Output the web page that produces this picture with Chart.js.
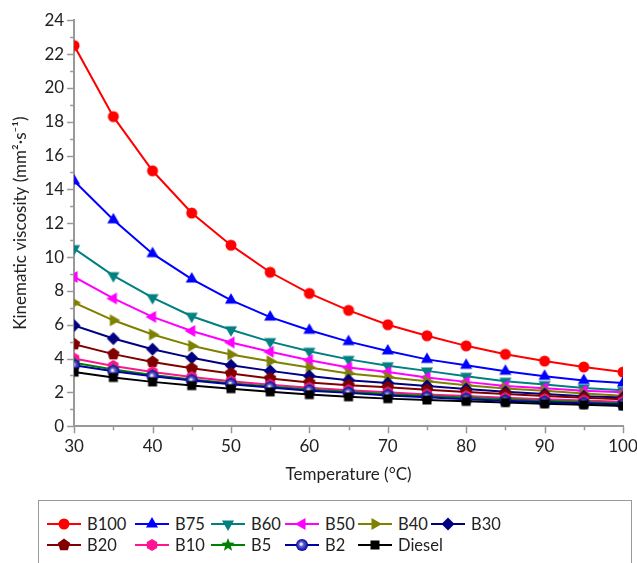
<!DOCTYPE html>
<html>
<head>
<meta charset="utf-8">
<script src="https://cdn.jsdelivr.net/npm/chart.js@4/dist/chart.umd.min.js"></script>
<style>
  body { margin: 0; background: #fff; font-family: Lato, sans-serif; }
  #wrap { position: relative; width: 637px; height: 563px; overflow: hidden; }
  #chart { position: absolute; left: 0; top: 0; }
  #legend {
    position: absolute; left: 38px; top: 500px; width: 594px; height: 80px;
    border: 1px solid #999; box-sizing: border-box;
    display: grid; grid-template-columns: 88px 76px 74px 73px 73px auto;
    grid-auto-rows: 21px; padding: 12px 0 0 8px; align-content: start;
  }
  .item { display: flex; align-items: center; font-size: 16.5px; color: #222; white-space: pre; }
  .item canvas { margin-right: 6px; }
</style>
</head>
<body>
<div id="wrap">
  <canvas id="chart" width="637" height="485"></canvas>
  <div id="legend"></div>
</div>
<script>
const temperatures = [30, 35, 40, 45, 50, 55, 60, 65, 70, 75, 80, 85, 90, 95, 100];
const seriesNames = ['B100', 'B75', 'B60', 'B50', 'B40', 'B30', 'B20', 'B10', 'B5', 'B2', 'Diesel'];

const b100 = [22.5, 18.3, 15.1, 12.6, 10.7, 9.1, 7.85, 6.85, 6.0, 5.35, 4.75, 4.25, 3.85, 3.5, 3.2];
const b75 = [14.5, 12.2, 10.2, 8.7, 7.45, 6.45, 5.67, 5.0, 4.45, 3.95, 3.6, 3.25, 2.95, 2.7, 2.55];
const b60 = [10.5, 8.9, 7.6, 6.5, 5.7, 5.0, 4.43, 3.95, 3.57, 3.27, 2.95, 2.66, 2.46, 2.26, 2.12];
const b50 = [8.82, 7.55, 6.46, 5.63, 4.95, 4.4, 3.9, 3.47, 3.2, 2.88, 2.62, 2.38, 2.25, 2.1, 2.0];
const b40 = [7.3, 6.26, 5.42, 4.75, 4.24, 3.84, 3.47, 3.12, 2.9, 2.66, 2.42, 2.23, 2.09, 1.93, 1.8];
const b30 = [5.95, 5.18, 4.55, 4.04, 3.6, 3.27, 2.97, 2.72, 2.55, 2.38, 2.2, 2.03, 1.9, 1.77, 1.7];
const b20 = [4.85, 4.26, 3.8, 3.42, 3.12, 2.82, 2.58, 2.42, 2.3, 2.15, 2.02, 1.9, 1.78, 1.68, 1.6];
const b10 = [4.0, 3.56, 3.2, 2.91, 2.66, 2.45, 2.28, 2.13, 2.0, 1.88, 1.78, 1.68, 1.6, 1.52, 1.45];
const b5 = [3.75, 3.35, 3.02, 2.76, 2.54, 2.34, 2.17, 2.03, 1.9, 1.79, 1.69, 1.6, 1.5, 1.43, 1.36];
const b2 = [3.6, 3.25, 2.95, 2.7, 2.48, 2.29, 2.1, 1.97, 1.82, 1.71, 1.6, 1.5, 1.42, 1.35, 1.28];
const diesel = [3.2, 2.88, 2.62, 2.4, 2.22, 2.03, 1.87, 1.74, 1.63, 1.55, 1.47, 1.4, 1.32, 1.27, 1.2];

const allValues = [b100, b75, b60, b50, b40, b30, b20, b10, b5, b2, diesel];
const colors = ['#ff0000', '#0000ff', '#008080', '#ff00ff', '#808000', '#000080',
                '#800000', '#ff1493', '#008000', '#0000a0', '#000000'];
const markers = ['circle', 'triUp', 'triDown', 'triLeft', 'triRight', 'diamond',
                 'pentagon', 'hexagon', 'star', 'sphere', 'square'];

// draws one marker shape centred at cx, cy
function drawMarker(ctx, type, color, cx, cy) {
  ctx.fillStyle = color;
  const poly = (n, r, start) => {
    ctx.beginPath();
    for (let i = 0; i < n; i++) {
      const a = start + i * 2 * Math.PI / n;
      const px = cx + r * Math.cos(a), py = cy + r * Math.sin(a);
      i ? ctx.lineTo(px, py) : ctx.moveTo(px, py);
    }
    ctx.closePath();
    ctx.fill();
  };
  const up = -Math.PI / 2;
  if (type === 'circle') { ctx.beginPath(); ctx.arc(cx, cy, 5.5, 0, 2 * Math.PI); ctx.fill(); }
  else if (type === 'triUp') poly(3, 7, up);
  else if (type === 'triDown') poly(3, 7, Math.PI / 2);
  else if (type === 'triLeft') poly(3, 7, Math.PI);
  else if (type === 'triRight') poly(3, 7, 0);
  else if (type === 'diamond') poly(4, 6.5, up);
  else if (type === 'pentagon') poly(5, 6.5, up);
  else if (type === 'hexagon') poly(6, 6, up);
  else if (type === 'square') ctx.fillRect(cx - 4.5, cy - 4.5, 9, 9);
  else if (type === 'star') {
    ctx.beginPath();
    for (let i = 0; i < 10; i++) {
      const r = i % 2 ? 3 : 7;
      const a = up + i * Math.PI / 5;
      const px = cx + r * Math.cos(a), py = cy + r * Math.sin(a);
      i ? ctx.lineTo(px, py) : ctx.moveTo(px, py);
    }
    ctx.closePath();
    ctx.fill();
  } else if (type === 'sphere') {
    const g = ctx.createRadialGradient(cx - 1, cy - 1, 0.5, cx, cy, 6);
    g.addColorStop(0, '#ffffff');
    g.addColorStop(0.35, '#6060d0');
    g.addColorStop(1, color);
    ctx.fillStyle = g;
    ctx.beginPath(); ctx.arc(cx, cy, 6, 0, 2 * Math.PI); ctx.fill();
  }
}

function markerCanvas(type, color) {
  const c = document.createElement('canvas');
  c.width = 16; c.height = 16;
  drawMarker(c.getContext('2d'), type, color, 8, 8);
  return c;
}

const datasets = seriesNames.map((name, i) => ({
  label: name,
  data: temperatures.map((t, j) => ({ x: t, y: allValues[i][j] })),
  borderColor: colors[i],
  backgroundColor: colors[i],
  borderWidth: 2,
  pointStyle: markerCanvas(markers[i], colors[i]),
  pointRadius: 6,
  tension: 0,
  order: seriesNames.length - i
}));

// axis ticks drawn by hand so minor ticks can be shorter
const tickMarks = {
  id: 'tickMarks',
  afterDraw(chart) {
    const ctx = chart.ctx;
    const xs = chart.scales.x, ys = chart.scales.y;
    ctx.save();
    ctx.strokeStyle = '#999';
    ctx.lineWidth = 1.5;
    ctx.beginPath();
    for (let v = 30; v <= 100; v += 5) {
      const px = Math.round(xs.getPixelForValue(v)) + 0.5;
      const len = v % 10 === 0 ? 7 : 4;
      ctx.moveTo(px, xs.top); ctx.lineTo(px, xs.top + len);
    }
    for (let v = 0; v <= 24; v += 1) {
      const py = Math.round(ys.getPixelForValue(v)) + 0.5;
      const len = v % 2 === 0 ? 7 : 4;
      ctx.moveTo(ys.right, py); ctx.lineTo(ys.right - len, py);
    }
    ctx.stroke();
    ctx.restore();
  }
};

const tickFont = { family: 'Lato, sans-serif', size: 17 };

new Chart(document.getElementById('chart'), {
  type: 'line',
  data: { datasets },
  plugins: [tickMarks],
  options: {
    responsive: false,
    animation: false,
    devicePixelRatio: 1,
    layout: { padding: { top: 10, right: 0, left: 6, bottom: 0 } },
    plugins: { legend: { display: false }, tooltip: { enabled: false } },
    scales: {
      x: {
        type: 'linear', min: 30, max: 100,
        afterFit(scale) { scale.paddingRight = 14; },
        ticks: { stepSize: 10, color: '#222', font: tickFont, padding: 10 },
        grid: { display: false, drawTicks: false },
        border: { color: '#999', width: 2 },
        title: { display: true, text: 'Temperature (°C)', color: '#222', font: tickFont, padding: { top: -2, bottom: 0 } }
      },
      y: {
        min: 0, max: 24,
        ticks: { stepSize: 2, color: '#222', font: tickFont, padding: 10 },
        grid: { display: false, drawTicks: false },
        border: { color: '#999', width: 2 },
        title: { display: true, text: 'Kinematic viscosity (mm²·s⁻¹)', color: '#222', font: tickFont, padding: { bottom: 4 } }
      }
    }
  }
});

// html legend laid out as a grid like the original
const legend = document.getElementById('legend');
seriesNames.forEach((name, i) => {
  const item = document.createElement('div');
  item.className = 'item';
  const icon = document.createElement('canvas');
  icon.width = 34; icon.height = 16;
  const ictx = icon.getContext('2d');
  ictx.strokeStyle = colors[i];
  ictx.lineWidth = 2;
  ictx.beginPath(); ictx.moveTo(0, 8); ictx.lineTo(34, 8); ictx.stroke();
  drawMarker(ictx, markers[i], colors[i], 17, 8);
  item.appendChild(icon);
  const label = document.createElement('span');
  label.textContent = name;
  item.appendChild(label);
  legend.appendChild(item);
});
</script>
</body>
</html>
